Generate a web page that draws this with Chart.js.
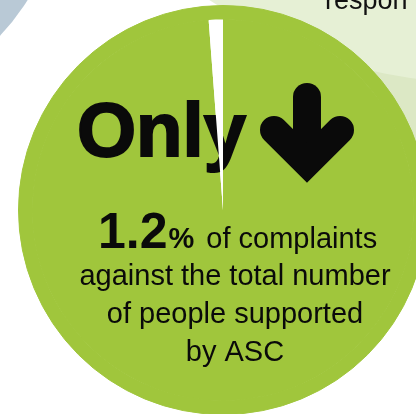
<!DOCTYPE html>
<html>
<head>
<meta charset="utf-8">
<script src="https://cdn.jsdelivr.net/npm/chart.js@4/dist/chart.umd.min.js"></script>
<style>
    html, body { margin: 0; padding: 0; overflow: hidden; background: #ffffff; width: 416px; height: 414px; }
    #wrap { position: absolute; left: 0; top: 0; width: 450px; height: 420px; }
</style>
</head>
<body>
<div id="wrap"><canvas id="pieChart"></canvas></div>
<script>
//chart data
const labels = ['Other people supported', 'Complaints'];
const shares = [98.8, 1.2];
const rim = [100];

const headline = 'Only';
const bigValue = '1.2';
const lineOne = 'of complaints';
const otherLines = ['against the total number', 'of people supported', 'by ASC'];
const cutWord = 'respon';

const green = '#a0c63c';
const font = '"Liberation Sans", Arial, sans-serif';

//background shapes and cut text behind the circle
const backdrop = {
    id: 'backdrop',
    beforeDraw(chart) {
        const ctx = chart.ctx;
        ctx.save();
        ctx.fillStyle = '#b9c9d6';
        ctx.beginPath(); ctx.arc(-161, -117, 222, 0, Math.PI * 2); ctx.fill();
        ctx.fillStyle = '#dce8c5';
        ctx.beginPath(); ctx.arc(560, 20, 200, 0, Math.PI * 2); ctx.fill();
        ctx.fillStyle = '#e6f0d5';
        ctx.beginPath(); ctx.arc(480, -400, 483, 0, Math.PI * 2); ctx.fill();
        ctx.fillStyle = '#111111';
        ctx.font = '27px ' + font;
        ctx.textBaseline = 'alphabetic';
        ctx.fillText(cutWord, 325, 9);
        ctx.restore();
    }
};

//texts on the circle, then the white slice again so it cuts through them
const labelsOnTop = {
    id: 'labelsOnTop',
    afterDatasetsDraw(chart) {
        const ctx = chart.ctx;
        const arc = chart.getDatasetMeta(1).data[0];
        const cx = arc.x, cy = arc.y;
        ctx.save();
        ctx.fillStyle = '#0a0a0a';
        ctx.strokeStyle = '#0a0a0a';
        ctx.textBaseline = 'alphabetic';

        ctx.font = 'bold 76px ' + font;
        ctx.lineWidth = 2;
        ctx.fillText(headline, cx - 146, cy - 54);
        ctx.strokeText(headline, cx - 146, cy - 54);

        //down arrow
        const ax = cx + 84;
        ctx.lineWidth = 28;
        ctx.lineCap = 'round';
        ctx.lineJoin = 'miter';
        ctx.beginPath();
        ctx.moveTo(ax, cy - 113);
        ctx.lineTo(ax, cy - 60);
        ctx.stroke();
        ctx.beginPath();
        ctx.moveTo(ax - 33, cy - 80);
        ctx.lineTo(ax, cy - 47);
        ctx.lineTo(ax + 33, cy - 80);
        ctx.stroke();

        //first line in three pieces
        let x = cx - 125;
        const y1 = cy + 38;
        ctx.textAlign = 'left';
        ctx.font = 'bold 50px ' + font;
        ctx.fillText(bigValue, x, y1);
        x += ctx.measureText(bigValue).width + 1;
        ctx.font = 'bold 29px ' + font;
        ctx.fillText('%', x, y1);
        x += ctx.measureText('%').width + 12;
        ctx.font = '29px ' + font;
        ctx.fillText(lineOne, x, y1);

        ctx.textAlign = 'center';
        otherLines.forEach((line, i) => {
            ctx.fillText(line, cx + 12, cy + 75 + i * 38);
        });
        ctx.restore();

        chart.getDatasetMeta(1).data[1].draw(ctx);
    }
};

const pie = document.getElementById('pieChart');

new Chart(pie, {
    type: 'pie',
    data: {
        labels: labels,
        datasets: [{
            label: 'rim',
            data: rim,
            backgroundColor: [green],
            borderColor: green,
            borderWidth: 1,
            weight: 14
        }, {
            label: '% of complaints',
            data: shares,
            backgroundColor: [green, '#ffffff'],
            borderColor: [green, '#ffffff'],
            borderWidth: [1, 0],
            weight: 191
        }]
    },
    options: {
        responsive: true,
        maintainAspectRatio: false,
        animation: false,
        events: [],
        layout: {
            padding: { left: 18, right: 22, top: 5, bottom: 5 }
        },
        plugins: {
            legend: { display: false },
            tooltip: { enabled: false }
        }
    },
    plugins: [backdrop, labelsOnTop]
});
</script>
</body>
</html>
